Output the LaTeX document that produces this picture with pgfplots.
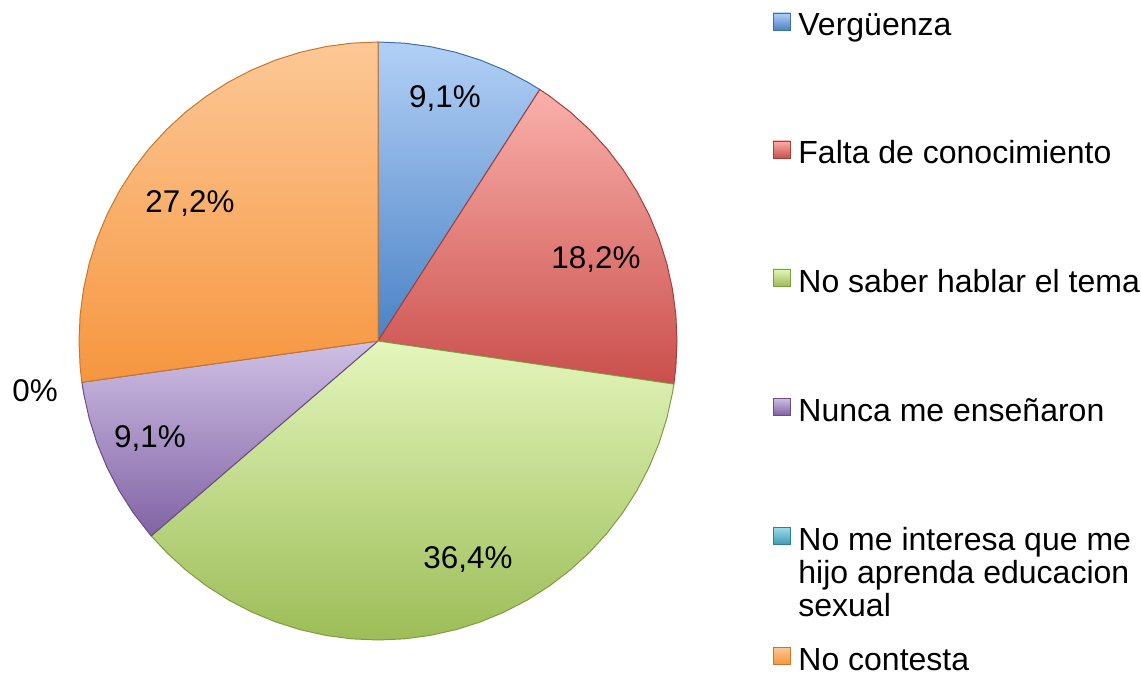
\documentclass[border=0pt]{standalone}
\usepackage{pgfplots}
\pgfplotsset{compat=1.18}
\usepgfplotslibrary{polar}
\usepackage{fontspec}
\setmainfont{Liberation Sans}
\definecolor{vtop}{HTML}{B2D0F6}\definecolor{vbot}{HTML}{4A82C4}\definecolor{vedge}{HTML}{3E6FA8}
\definecolor{ftop}{HTML}{FAB0AB}\definecolor{fbot}{HTML}{CA4F4C}\definecolor{fedge}{HTML}{A43E3B}
\definecolor{ntop}{HTML}{E4F6BC}\definecolor{nbot}{HTML}{9CBD57}\definecolor{nedge}{HTML}{7F9C45}
\definecolor{ptop}{HTML}{CFC0E5}\definecolor{pbot}{HTML}{8163A4}\definecolor{pedge}{HTML}{674E86}
\definecolor{otop}{HTML}{FCC896}\definecolor{obot}{HTML}{F6963F}\definecolor{oedge}{HTML}{C8762C}
\definecolor{ctop}{HTML}{9FDCEB}\definecolor{cbot}{HTML}{3F9DB8}\definecolor{cedge}{HTML}{2F7F96}
\begin{document}
\begin{tikzpicture}[every node/.style={font=\fontsize{15.7}{18}\selectfont, inner sep=0pt},
  leg/.style={anchor=base west, font=\fontsize{16}{18}\selectfont}]
\begin{axis}[scale only axis, width=570.5pt, height=338pt, anchor=south west, at={(0,0)},
  xmin=-378, xmax=763, ymin=-335, ymax=341, hide axis, clip=false]
% Vergüenza 9.1%
\addplot[data cs=polar, top color=vtop, bottom color=vbot, draw=vedge, line width=0.5pt] coordinates {
(0,0) (90,299) (85,299) (80,299) (75,299) (70,299) (65,299) (60,299) (57.24,299) (0,0)};
% Falta de conocimiento 18.2%
\addplot[data cs=polar, top color=ftop, bottom color=fbot, draw=fedge, line width=0.5pt] coordinates {
(0,0) (57.24,299) (55,299) (50,299) (45,299) (40,299) (35,299) (30,299) (25,299) (20,299) (15,299) (10,299) (5,299) (0,299) (-5,299) (-8.28,299) (0,0)};
% No saber hablar el tema 36.4%
\addplot[data cs=polar, top color=ntop, bottom color=nbot, draw=nedge, line width=0.5pt] coordinates {
(0,0) (-8.28,299) (-10,299) (-15,299) (-20,299) (-25,299) (-30,299) (-35,299) (-40,299) (-45,299) (-50,299) (-55,299) (-60,299) (-65,299) (-70,299) (-75,299) (-80,299) (-85,299) (-90,299) (-95,299) (-100,299) (-105,299) (-110,299) (-115,299) (-120,299) (-125,299) (-130,299) (-135,299) (-139.32,299) (0,0)};
% Nunca me enseñaron 9.1%
\addplot[data cs=polar, top color=ptop, bottom color=pbot, draw=pedge, line width=0.5pt] coordinates {
(0,0) (-139.32,299) (-140,299) (-145,299) (-150,299) (-155,299) (-160,299) (-165,299) (-170,299) (-172.08,299) (0,0)};
% No contesta 27.2%
\addplot[data cs=polar, top color=otop, bottom color=obot, draw=oedge, line width=0.5pt] coordinates {
(0,0) (-172.08,299) (-175,299) (-180,299) (-185,299) (-190,299) (-195,299) (-200,299) (-205,299) (-210,299) (-215,299) (-220,299) (-225,299) (-230,299) (-235,299) (-240,299) (-245,299) (-250,299) (-255,299) (-260,299) (-265,299) (-270,299) (0,0)};
% percentage labels
\node[anchor=base] at (axis cs:67,233) {9,1\%};
\node[anchor=base] at (axis cs:218,73) {18,2\%};
\node[anchor=base] at (axis cs:90,-227) {36,4\%};
\node[anchor=base] at (axis cs:-228,-106) {9,1\%};
\node[anchor=base] at (axis cs:-343,-60) {0\%};
\node[anchor=base] at (axis cs:-188,128) {27,2\%};
% legend
\node[leg] at (axis cs:420,305) {Vergüenza};
\node[leg] at (axis cs:420,177) {Falta de conocimiento};
\node[leg] at (axis cs:420,49) {No saber hablar el tema};
\node[leg] at (axis cs:420,-80) {Nunca me enseñaron};
\node[leg] at (axis cs:420,-209) {No me interesa que me};
\node[leg] at (axis cs:420,-242) {hijo aprenda educacion};
\node[leg] at (axis cs:420,-275) {sexual};
\node[leg] at (axis cs:420,-329) {No contesta};
\draw[top color=vtop, bottom color=vbot, draw=vedge, line width=0.3pt] (axis cs:395,311) rectangle (axis cs:412,328);
\draw[top color=ftop, bottom color=fbot, draw=fedge, line width=0.3pt] (axis cs:395,183) rectangle (axis cs:412,200);
\draw[top color=ntop, bottom color=nbot, draw=nedge, line width=0.3pt] (axis cs:395,55) rectangle (axis cs:412,72);
\draw[top color=ptop, bottom color=pbot, draw=pedge, line width=0.3pt] (axis cs:395,-74) rectangle (axis cs:412,-57);
\draw[top color=ctop, bottom color=cbot, draw=cedge, line width=0.3pt] (axis cs:395,-203) rectangle (axis cs:412,-186);
\draw[top color=otop, bottom color=obot, draw=oedge, line width=0.3pt] (axis cs:395,-323) rectangle (axis cs:412,-306);
\end{axis}
\pgfresetboundingbox
\path (0,0) rectangle (570.5pt,338pt);
\end{tikzpicture}
\end{document}
